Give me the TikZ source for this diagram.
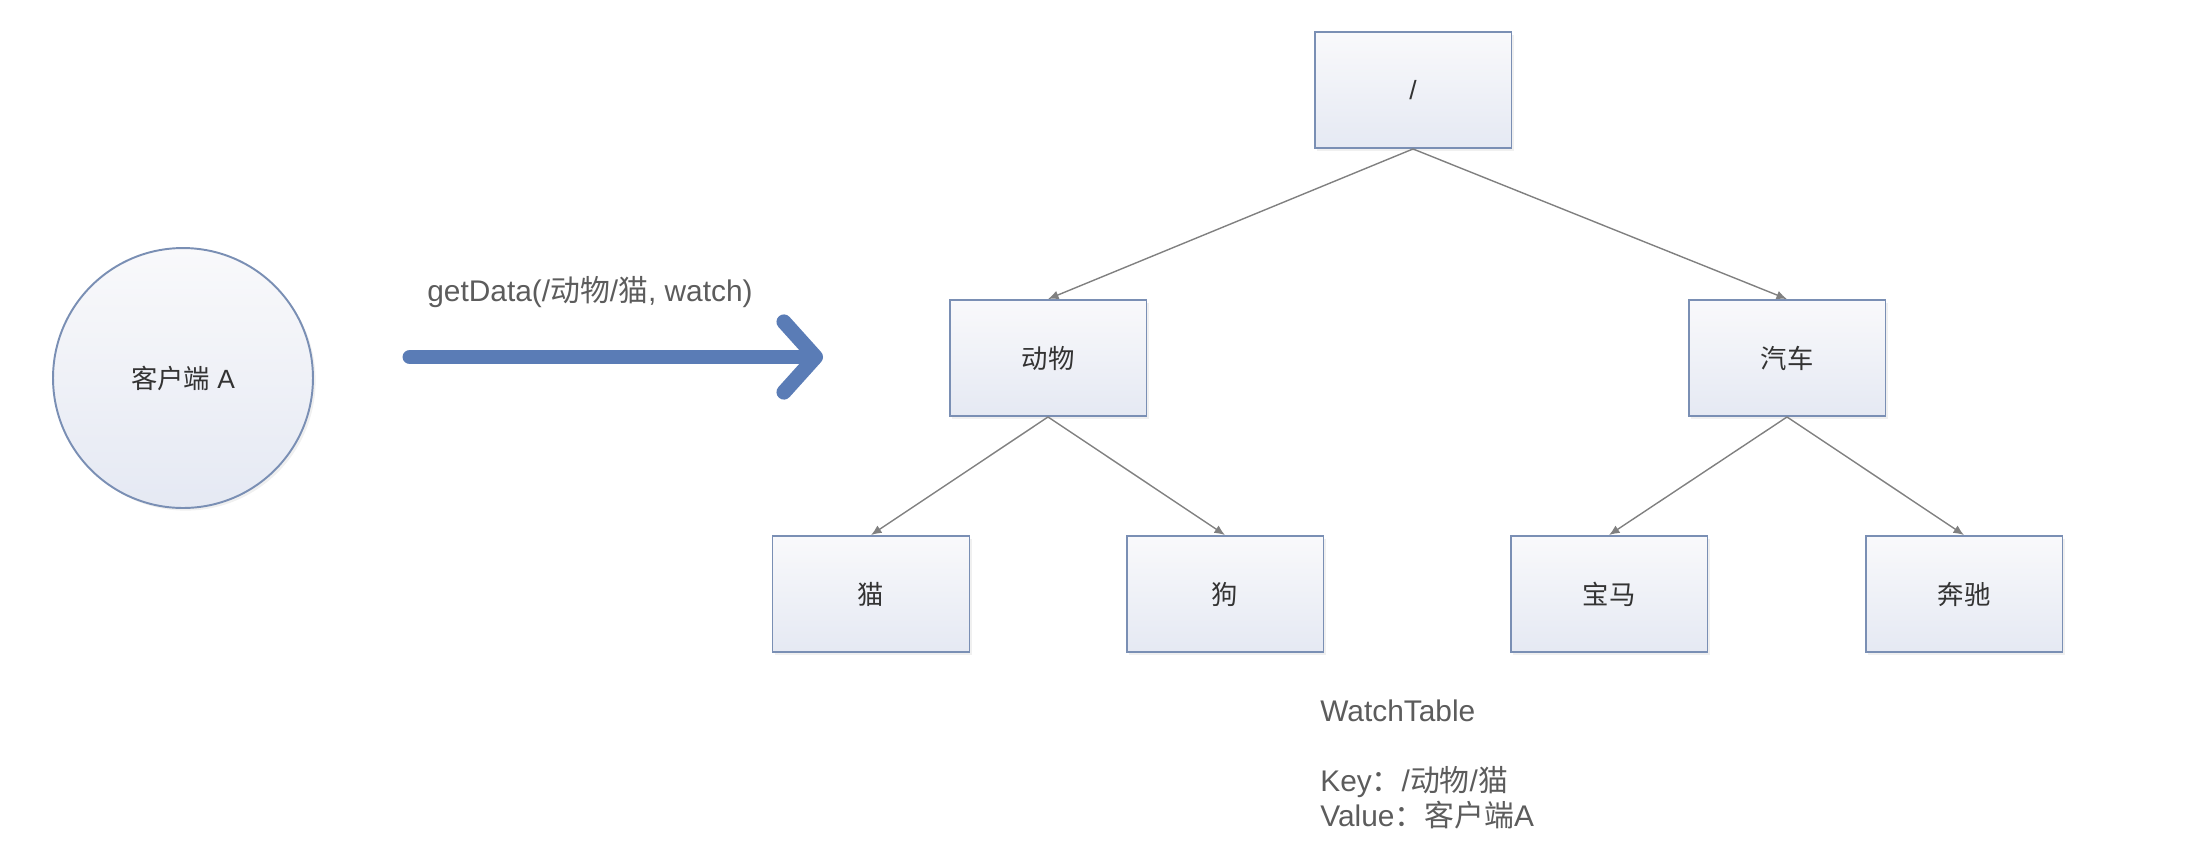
\documentclass[tikz,border=0pt]{standalone}
\usepackage{fontspec}
\setmainfont{Liberation Sans}
\newfontfamily\cjk{Noto Sans CJK SC}
\usetikzlibrary{arrows.meta, positioning, shadows}
\usepackage{xcolor}
\definecolor{boxline}{RGB}{122,143,180}
\definecolor{boxtop}{RGB}{249,249,251}
\definecolor{boxbottom}{RGB}{229,233,243}
\definecolor{reqblue}{RGB}{90,124,182}
\definecolor{edgegray}{RGB}{128,128,128}
\definecolor{labelgray}{RGB}{92,92,92}

\begin{document}
\begin{tikzpicture}[
    x=0.02cm, y=-0.02cm,
    box/.style={
        rectangle,
        draw=boxline,
        line width=1.1pt,
        top color=boxtop,
        bottom color=boxbottom,
        minimum width=3.94cm,
        minimum height=2.32cm,
        align=center,
        text=black!80,
        font=\fontsize{15}{18}\selectfont,
        drop shadow={opacity=0.12, shadow xshift=1.5pt, shadow yshift=-1.5pt}
    },
    client/.style={
        circle,
        draw=boxline,
        line width=1.1pt,
        top color=boxtop,
        bottom color=boxbottom,
        minimum size=5.2cm,
        text=black!80,
        font=\fontsize{15}{18}\selectfont,
        drop shadow={opacity=0.12, shadow xshift=1.5pt, shadow yshift=-1.5pt}
    },
    note/.style={align=left, inner sep=0pt, text=labelgray, font=\fontsize{17}{20}\selectfont},
    treeArrow/.style={-{Latex[length=6pt, width=5pt]}, edgegray, line width=0.8pt},
    requestArrow/.style={-{Straight Barb[length=18pt, width=40pt, round]}, reqblue, line width=8.5pt, line cap=round}
]
    \useasboundingbox (0,0) rectangle (2196,850);

    % Client
    \node[client] (clientA) at (183,378) {{\cjk 客户端} A};

    % Request
    \coordinate (reqstart) at (410,357);
    \coordinate (reqend) at (823,357);
    \draw[requestArrow] (reqstart) -- (reqend);
    \node[note] (getdata) at (590,292) {getData(/{\cjk 动物}/{\cjk 猫}, watch)};

    % Tree
    \node[box] (root) at (1413,90) {/};
    \node[box] (animal) at (1048,358) {{\cjk 动物}};
    \node[box] (car) at (1787,358) {{\cjk 汽车}};
    \node[box] (cat) at (871,594) {{\cjk 猫}};
    \node[box] (dog) at (1225,594) {{\cjk 狗}};
    \node[box] (bmw) at (1609,594) {{\cjk 宝马}};
    \node[box] (benz) at (1964,594) {{\cjk 奔驰}};

    \draw[treeArrow] (root.south) -- (animal.north);
    \draw[treeArrow] (root.south) -- (car.north);
    \draw[treeArrow] (animal.south) -- (cat.north);
    \draw[treeArrow] (animal.south) -- (dog.north);
    \draw[treeArrow] (car.south) -- (bmw.north);
    \draw[treeArrow] (car.south) -- (benz.north);

    % Watch table
    \node[note, anchor=north west] (watchtable) at (1320,699) {WatchTable\\[20pt]Key{\cjk ：}/{\cjk 动物}/{\cjk 猫}\\Value{\cjk ：}{\cjk 客户端}A};
\end{tikzpicture}
\end{document}
